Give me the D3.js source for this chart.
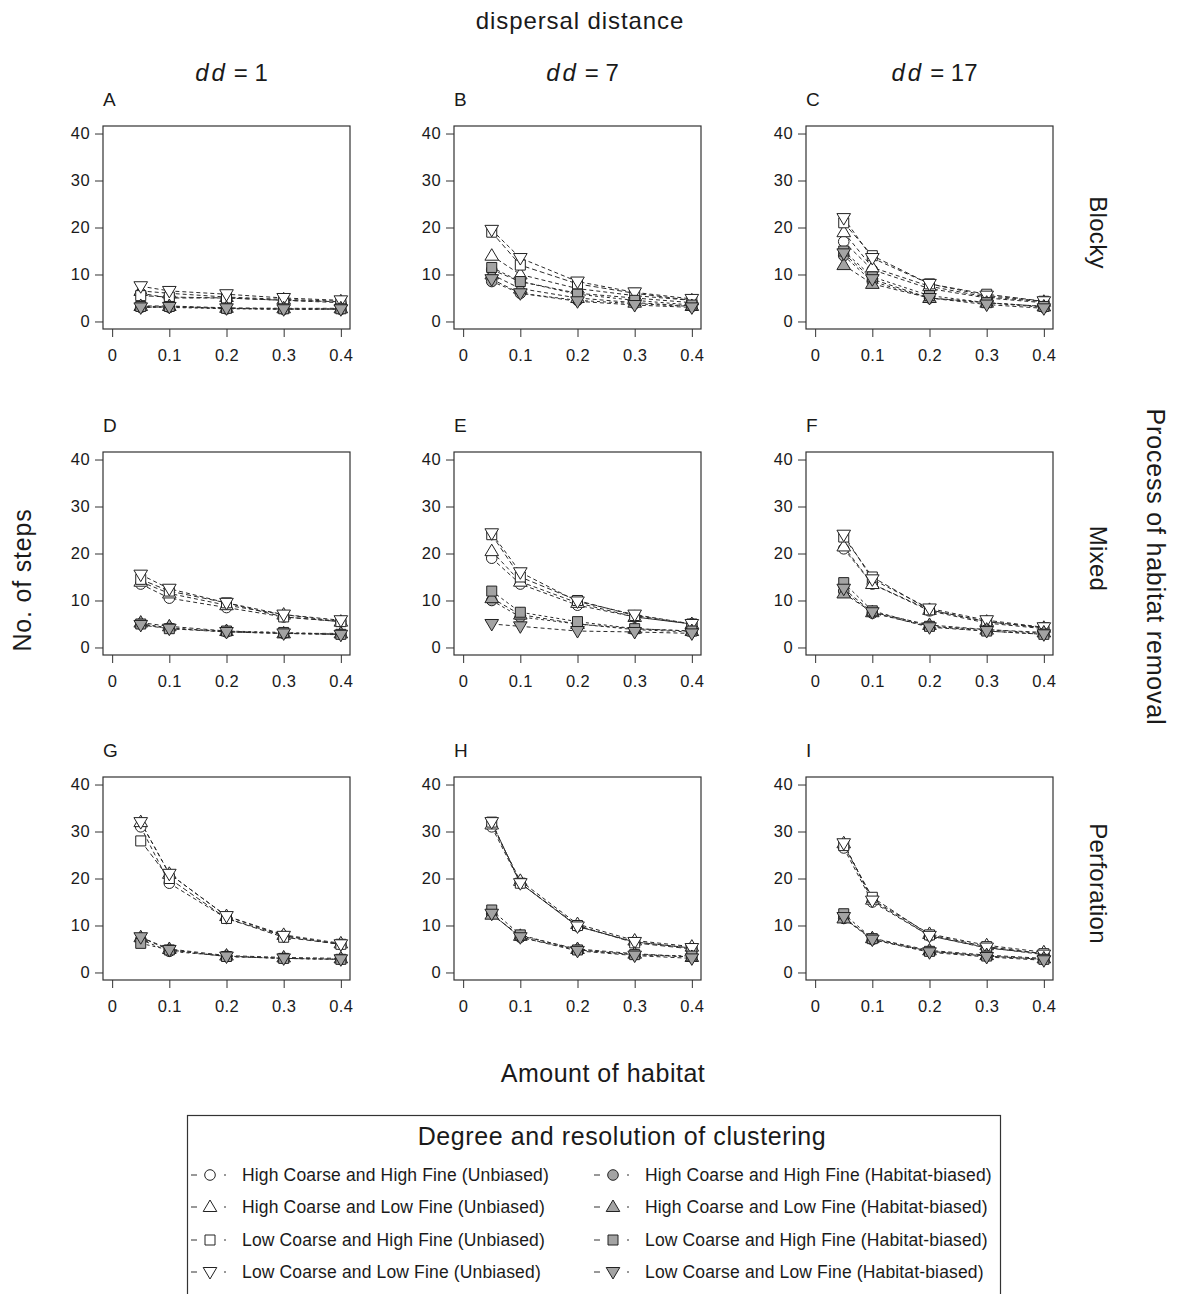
<!DOCTYPE html>
<html>
<head>
<meta charset="utf-8">
<script src="https://cdn.jsdelivr.net/npm/d3@7"></script>
<style>
  html, body { margin: 0; padding: 0; background: #fff; }
  svg { display: block; font-family: "Liberation Sans", Arial, sans-serif; }
</style>
</head>
<body>
<svg id="chart" width="1177" height="1294"></svg>
<script>
// ---------------- DATA ----------------
const amounts = [0.05, 0.1, 0.2, 0.3, 0.4];
const xTicks = [0, 0.1, 0.2, 0.3, 0.4];
const xTickLabels = ["0", "0.1", "0.2", "0.3", "0.4"];
const yTicks = [0, 10, 20, 30, 40];
const seriesNames = [
  "High Coarse and High Fine (Unbiased)",
  "High Coarse and Low Fine (Unbiased)",
  "Low Coarse and High Fine (Unbiased)",
  "Low Coarse and Low Fine (Unbiased)",
  "High Coarse and High Fine (Habitat-biased)",
  "High Coarse and Low Fine (Habitat-biased)",
  "Low Coarse and High Fine (Habitat-biased)",
  "Low Coarse and Low Fine (Habitat-biased)"
];
const seriesShapes = ["circle", "up", "square", "down", "circle", "up", "square", "down"];
const seriesFilled = [false, false, false, false, true, true, true, true];
const colLabels = ["1", "7", "17"];
const rowLabels = ["Blocky", "Mixed", "Perforation"];
const panelLetters = ["A", "B", "C", "D", "E", "F", "G", "H", "I"];

// each panel: 8 series (order as seriesNames) x 5 amounts
const panelA = [
  [6.0, 5.0, 5.0, 4.5, 4.0],
  [6.5, 6.0, 5.2, 4.7, 4.3],
  [5.5, 5.2, 5.0, 4.5, 4.2],
  [7.5, 6.5, 5.8, 5.0, 4.5],
  [3.0, 3.0, 2.7, 2.6, 2.6],
  [3.3, 3.3, 2.9, 2.8, 2.8],
  [3.2, 3.2, 2.8, 2.7, 2.7],
  [3.0, 3.1, 2.8, 2.6, 2.6]
];
const panelB = [
  [11.0, 8.5, 6.0, 5.0, 4.0],
  [14.0, 10.0, 7.0, 5.5, 4.5],
  [19.0, 12.0, 8.0, 6.0, 4.5],
  [19.5, 13.5, 8.5, 6.2, 4.8],
  [8.5, 6.0, 4.5, 3.8, 3.2],
  [10.0, 7.0, 5.0, 4.0, 3.3],
  [11.5, 8.5, 5.8, 4.5, 3.5],
  [9.0, 6.0, 4.3, 3.5, 3.0]
];
const panelC = [
  [17.0, 11.0, 7.0, 5.0, 4.0],
  [19.0, 11.5, 7.5, 5.2, 4.2],
  [21.0, 14.0, 8.0, 5.8, 4.3],
  [22.0, 13.5, 8.0, 5.5, 4.3],
  [14.0, 8.5, 5.0, 4.0, 3.0],
  [12.0, 8.0, 5.0, 4.0, 3.2],
  [15.0, 9.5, 5.5, 4.0, 3.2],
  [14.5, 9.0, 5.0, 3.6, 2.8]
];
const panelD = [
  [13.5, 10.5, 8.5, 6.5, 5.5],
  [14.0, 11.5, 9.0, 7.0, 5.5],
  [14.5, 12.0, 9.5, 6.5, 5.5],
  [15.5, 12.5, 9.5, 7.0, 5.8],
  [5.0, 4.2, 3.3, 3.0, 2.8],
  [5.3, 4.5, 3.5, 3.0, 3.0],
  [5.0, 4.0, 3.5, 3.2, 2.8],
  [4.8, 4.0, 3.3, 3.0, 2.7]
];
const panelE = [
  [19.0, 13.5, 9.0, 6.5, 5.0],
  [20.5, 14.0, 9.5, 6.5, 5.0],
  [24.0, 15.0, 10.0, 6.8, 5.0],
  [24.3, 16.0, 9.8, 7.0, 5.0],
  [10.0, 6.5, 5.0, 3.8, 3.3],
  [10.5, 7.0, 5.0, 4.0, 3.5],
  [12.0, 7.5, 5.5, 4.0, 3.5],
  [5.0, 4.5, 3.5, 3.3, 3.0]
];
const panelF = [
  [21.0, 13.5, 7.8, 5.2, 4.0],
  [21.5, 13.5, 8.0, 5.5, 4.2],
  [23.5, 15.0, 8.0, 5.5, 4.2],
  [24.0, 14.5, 8.3, 5.8, 4.3],
  [12.0, 7.3, 4.5, 3.8, 3.0],
  [11.5, 7.5, 4.8, 3.8, 3.2],
  [13.8, 7.8, 4.5, 3.5, 2.8],
  [12.5, 7.5, 4.3, 3.5, 2.8]
];
const panelG = [
  [31.0, 19.0, 11.5, 7.8, 6.0],
  [32.0, 21.0, 12.0, 8.0, 6.2],
  [28.0, 20.0, 11.5, 7.5, 6.0],
  [32.0, 21.0, 12.0, 7.8, 6.0],
  [7.0, 4.5, 3.5, 3.0, 2.8],
  [7.5, 5.0, 3.6, 3.2, 3.0],
  [6.2, 4.8, 3.4, 3.0, 2.8],
  [7.5, 4.8, 3.4, 3.0, 2.8]
];
const panelH = [
  [31.0, 19.0, 9.8, 6.5, 5.2],
  [31.5, 19.5, 10.3, 6.8, 5.5],
  [32.0, 19.0, 10.0, 6.3, 5.0],
  [32.0, 19.0, 9.8, 6.5, 5.2],
  [12.5, 7.5, 4.8, 3.8, 3.3],
  [12.3, 7.8, 5.0, 4.0, 3.3],
  [13.3, 8.0, 4.8, 3.8, 3.5],
  [12.5, 7.5, 4.6, 3.6, 3.0]
];
const panelI = [
  [26.5, 15.0, 7.8, 5.2, 4.0],
  [27.5, 15.5, 8.2, 5.8, 4.3],
  [27.0, 16.0, 8.0, 5.5, 4.0],
  [27.5, 15.3, 7.8, 5.3, 3.8],
  [11.5, 7.0, 4.5, 3.5, 2.8],
  [11.5, 7.3, 4.7, 3.7, 3.0],
  [12.5, 7.2, 4.5, 3.5, 2.8],
  [11.8, 7.0, 4.3, 3.3, 2.6]
];
const panels = [panelA, panelB, panelC, panelD, panelE, panelF, panelG, panelH, panelI];

// ---------------- LAYOUT ----------------
const svg = d3.select("#chart");
const colLeft = [103, 454, 806];
const rowTop = [126, 452, 777];
const boxW = 247, boxH = 203;
const ink = "#1a1a1a";
const fillGray = "#a3a3a3";
const lineDash = ["4,3", "4,3", "5,3", "4,3", "3,3", "4,3", "3,3", "4,3"];

function markerPath(shape) {
  if (shape === "circle") {
    const r = 5.3;
    return `M${r},0A${r},${r} 0 1,1 ${-r},0A${r},${r} 0 1,1 ${r},0Z`;
  }
  if (shape === "square") {
    const h = 5;
    return `M${-h},${-h}H${h}V${h}H${-h}Z`;
  }
  if (shape === "up") {
    return "M0,-7L6.8,4.5L-6.8,4.5Z";
  }
  return "M0,7L6.8,-4.5L-6.8,-4.5Z";
}

// Headers
svg.append("text").attr("x", 580).attr("y", 29).attr("text-anchor", "middle")
  .attr("font-size", 24).attr("letter-spacing", 0.9).attr("fill", ink).text("dispersal distance");

colLabels.forEach((lab, c) => {
  const t = svg.append("text").attr("x", colLeft[c] + boxW / 2 + 5).attr("y", 81)
    .attr("text-anchor", "middle").attr("font-size", 24).attr("fill", ink);
  t.append("tspan").attr("font-style", "italic").attr("letter-spacing", 3).text("dd");
  t.append("tspan").attr("dx", 6).text("= " + lab);
});

rowLabels.forEach((lab, r) => {
  const cy = rowTop[r] + boxH / 2 + 5;
  svg.append("text").attr("transform", `translate(1090,${cy}) rotate(90)`)
    .attr("text-anchor", "middle").attr("font-size", 24).attr("letter-spacing", 0.3)
    .attr("fill", ink).text(lab);
});

svg.append("text").attr("transform", "translate(1147,567) rotate(90)")
  .attr("text-anchor", "middle").attr("font-size", 25).attr("letter-spacing", 0.8)
  .attr("fill", ink).text("Process of habitat removal");

svg.append("text").attr("transform", "translate(31,580) rotate(-90)")
  .attr("text-anchor", "middle").attr("font-size", 25).attr("letter-spacing", 0.8)
  .attr("fill", ink).text("No. of steps");

svg.append("text").attr("x", 603).attr("y", 1082).attr("text-anchor", "middle")
  .attr("font-size", 25).attr("letter-spacing", 0.5).attr("fill", ink).text("Amount of habitat");

// Panels
panels.forEach((data, i) => {
  const r = Math.floor(i / 3), c = i % 3;
  const left = colLeft[c], top = rowTop[r];
  const x = d3.scaleLinear().domain([-0.016, 0.416]).range([left, left + boxW]);
  const y = d3.scaleLinear().domain([-1.6, 41.6]).range([top + boxH, top]);
  const g = svg.append("g");

  g.append("text").attr("x", left).attr("y", top - 20).attr("font-size", 19)
    .attr("fill", ink).text(panelLetters[i]);

  const xa = g.append("g").attr("transform", `translate(0,${top + boxH})`)
    .call(d3.axisBottom(x).tickValues(xTicks).tickFormat((d, k) => xTickLabels[k])
      .tickSize(8).tickPadding(12));
  const ya = g.append("g").attr("transform", `translate(${left},0)`)
    .call(d3.axisLeft(y).tickValues(yTicks).tickSize(8).tickPadding(5));
  [xa, ya].forEach(a => {
    a.select(".domain").remove();
    a.selectAll("line").attr("stroke", "#333");
    a.selectAll("text").attr("font-size", 16.5).attr("letter-spacing", 0.4).attr("fill", ink)
      .attr("font-family", "'Liberation Sans', Arial, sans-serif");
  });

  g.append("rect").attr("x", left).attr("y", top).attr("width", boxW).attr("height", boxH)
    .attr("fill", "none").attr("stroke", "#333").attr("stroke-width", 1.2);

  const line = d3.line().x((d, k) => x(amounts[k])).y(d => y(d));
  data.forEach((vals, s) => {
    g.append("path").attr("d", line(vals)).attr("fill", "none")
      .attr("stroke", "#2a2a2a").attr("stroke-width", 1)
      .attr("stroke-dasharray", lineDash[s]);
  });
  data.forEach((vals, s) => {
    g.selectAll(null).data(vals).enter().append("path")
      .attr("d", markerPath(seriesShapes[s]))
      .attr("transform", (d, k) => `translate(${x(amounts[k])},${y(d)})`)
      .attr("fill", seriesFilled[s] ? fillGray : "#fff")
      .attr("stroke", "#222").attr("stroke-width", 1);
  });
});

// Legend
const lg = svg.append("g");
lg.append("rect").attr("x", 187.5).attr("y", 1115.5).attr("width", 813).attr("height", 200)
  .attr("fill", "#fff").attr("stroke", "#333").attr("stroke-width", 1.2);
lg.append("text").attr("x", 622).attr("y", 1145).attr("text-anchor", "middle")
  .attr("font-size", 25).attr("letter-spacing", 0.6).attr("fill", ink)
  .text("Degree and resolution of clustering");
const legRowY = [1175, 1207, 1240, 1272];
const legColX = [210, 613];
seriesNames.forEach((name, s) => {
  const col = s < 4 ? 0 : 1, row = s % 4;
  const cx = legColX[col], cy = legRowY[row];
  lg.append("line").attr("x1", cx - 19).attr("x2", cx + 19).attr("y1", cy).attr("y2", cy)
    .attr("stroke", "#333").attr("stroke-width", 1).attr("stroke-dasharray", "6,27,2,10");
  lg.append("path").attr("d", markerPath(seriesShapes[s]))
    .attr("transform", `translate(${cx},${cy})`)
    .attr("fill", seriesFilled[s] ? fillGray : "#fff")
    .attr("stroke", "#222").attr("stroke-width", 1);
  lg.append("text").attr("x", cx + 32).attr("y", cy + 6).attr("font-size", 17.5)
    .attr("letter-spacing", 0.15).attr("fill", ink).text(name);
});
</script>
</body>
</html>
